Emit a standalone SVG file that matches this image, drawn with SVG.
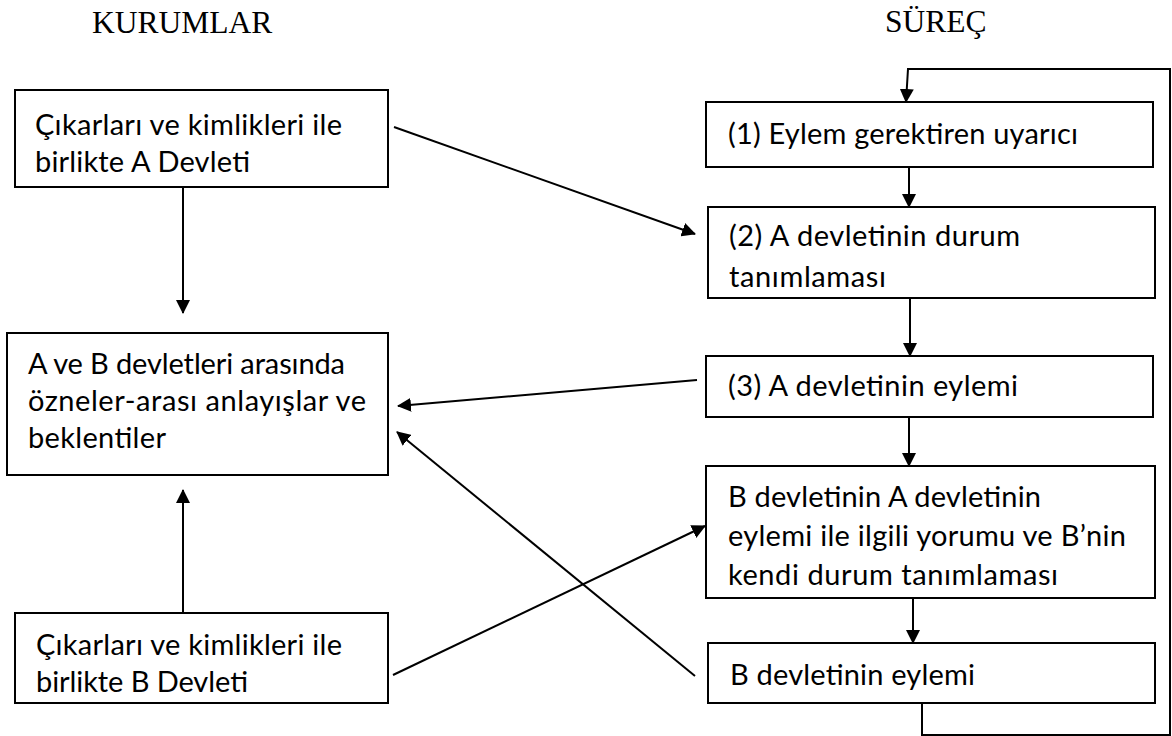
<svg xmlns="http://www.w3.org/2000/svg" width="1172" height="736" viewBox="0 0 1172 736">
<style>
.box{fill:#fff;stroke:#000;stroke-width:2}
.t{font-family:Lato,"Open Sans","Liberation Sans",sans-serif;font-size:29px;fill:#000}
.h{font-family:"Liberation Serif","Times New Roman",serif;font-size:31.5px;fill:#000}
.c{fill:none;stroke:#000;stroke-width:2}
.a{marker-end:url(#ah)}
</style>
<defs>
<marker id="ah" viewBox="0 0 14 14" refX="13" refY="7" markerWidth="14" markerHeight="14" markerUnits="userSpaceOnUse" orient="auto">
<path d="M0,0 L14,7 L0,14 z" fill="#000"/>
</marker>
</defs>
<rect width="1172" height="736" fill="#fff"/>
<text class="h" x="92" y="33">KURUMLAR</text>
<text class="h" x="885" y="32">SÜREÇ</text>
<g id="connectors">
<path class="c a" d="M183,187 V313"/>
<path class="c a" d="M183,613 V490"/>
<path class="c a" d="M394,127 L695,234"/>
<path class="c a" d="M697,380 L398,406"/>
<path class="c a" d="M695,676 L397,432"/>
<path class="c a" d="M393,675 L705,526"/>
<path class="c a" d="M909,167 V207"/>
<path class="c a" d="M910,298 V356"/>
<path class="c a" d="M909,408 V466"/>
<path class="c a" d="M913,598 V643"/>
<path class="c a" d="M922,703 V735 H1170 V69 H908 L906,102"/>
</g>
<g id="nodeA">
<rect class="box" x="15" y="90" width="373" height="97"/>
<text class="t" x="35" y="135" textLength="307" lengthAdjust="spacing">Çıkarları ve kimlikleri ile</text>
<text class="t" x="35" y="172" textLength="215" lengthAdjust="spacing">birlikte A Devleti</text>
</g>
<g id="nodeAB">
<rect class="box" x="7" y="333" width="381" height="142"/>
<text class="t" x="28" y="374" textLength="317" lengthAdjust="spacing">A ve B devletleri arasında</text>
<text class="t" x="28" y="411" textLength="338" lengthAdjust="spacing">özneler-arası anlayışlar ve</text>
<text class="t" x="28" y="448" textLength="138" lengthAdjust="spacing">beklentiler</text>
</g>
<g id="nodeB">
<rect class="box" x="15" y="613" width="373" height="90"/>
<text class="t" x="36" y="655" textLength="306" lengthAdjust="spacing">Çıkarları ve kimlikleri ile</text>
<text class="t" x="36" y="692" textLength="212" lengthAdjust="spacing">birlikte B Devleti</text>
</g>
<g id="step1">
<rect class="box" x="706" y="102" width="447" height="65"/>
<text class="t" x="728" y="144" textLength="350" lengthAdjust="spacing">(1) Eylem gerektiren uyarıcı</text>
</g>
<g id="step2">
<rect class="box" x="708" y="207" width="447" height="91"/>
<text class="t" x="729" y="246" textLength="291" lengthAdjust="spacing">(2) A devletinin durum</text>
<text class="t" x="729" y="287" textLength="157" lengthAdjust="spacing">tanımlaması</text>
</g>
<g id="step3">
<rect class="box" x="706" y="356" width="447" height="61"/>
<text class="t" x="728" y="396" textLength="290" lengthAdjust="spacing">(3) A devletinin eylemi</text>
</g>
<g id="step4">
<rect class="box" x="706" y="466" width="449" height="132"/>
<text class="t" x="728" y="507" textLength="313" lengthAdjust="spacing">B devletinin A devletinin</text>
<text class="t" x="728" y="546" textLength="398" lengthAdjust="spacing">eylemi ile ilgili yorumu ve B’nin</text>
<text class="t" x="728" y="585" textLength="330" lengthAdjust="spacing">kendi durum tanımlaması</text>
</g>
<g id="step5">
<rect class="box" x="708" y="643" width="447" height="60"/>
<text class="t" x="730" y="685" textLength="245" lengthAdjust="spacing">B devletinin eylemi</text>
</g>
</svg>
